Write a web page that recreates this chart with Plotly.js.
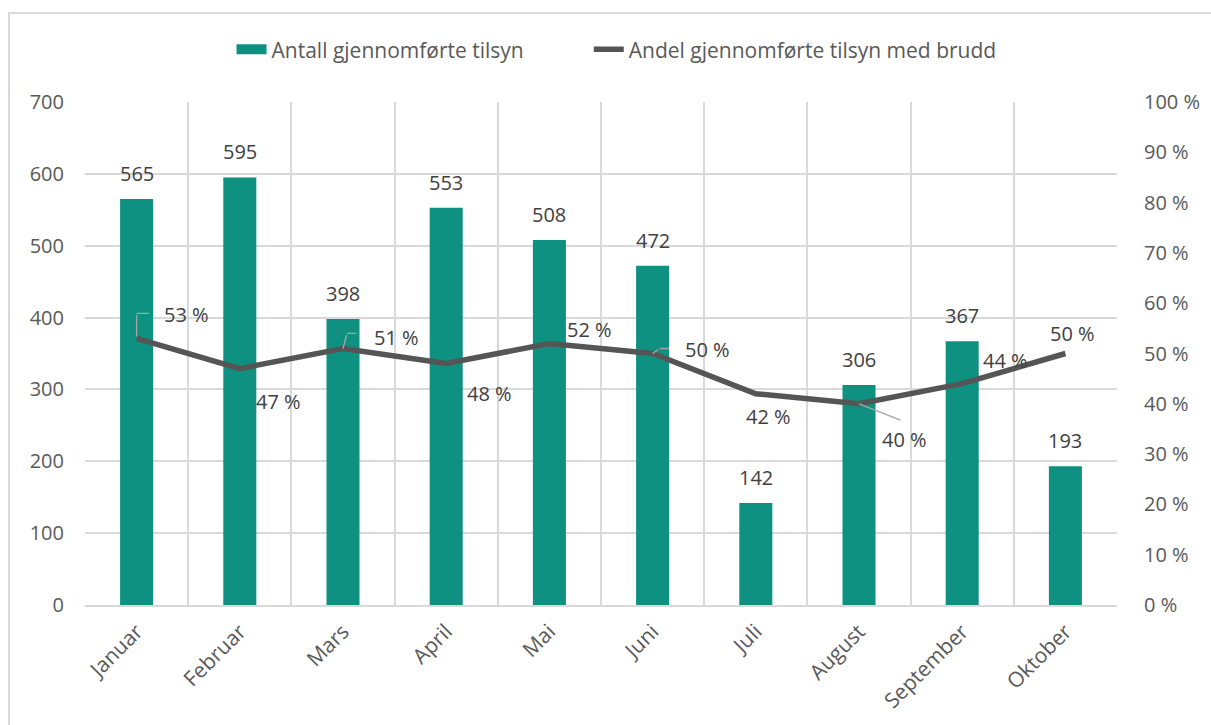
<!DOCTYPE html>
<html>
<head>
<meta charset="utf-8">
<script src="https://cdn.plot.ly/plotly-3.0.1.min.js"></script>
<style>
html,body{margin:0;padding:0;background:#fff;}
#wrap{position:relative;width:1211px;height:725px;overflow:hidden;}
#chart{width:1211px;height:725px;}
#frame{position:absolute;left:8px;top:12px;width:1300px;height:800px;border-left:2px solid #D9D9D9;border-top:2px solid #D9D9D9;pointer-events:none;}
</style>
</head>
<body>
<div id="wrap"><div id="chart"></div><div id="frame"></div></div>
<script>
const months = ["Januar","Februar","Mars","April","Mai","Juni","Juli","August","September","Oktober"];
const antall = [565, 595, 398, 553, 508, 472, 142, 306, 367, 193];
const andel = [53, 47, 51, 48, 52, 50, 42, 40, 44, 50];
const pctLabelOffsetX = [50, 39, 53, 43, 40, 55, 13, 45, 43, 7];
const pctLabelOffsetY = [24, -33, 11, -30, 14, 4, -23, -36, 23, 20];
const seriesNames = ["Antall gjennomførte tilsyn", "Andel gjennomførte tilsyn med brudd"];

const txtColor = "#595959";
const fontFam = "'Open Sans', sans-serif";
const fs = 20;
const barColor = "#0F9182";
const lineColor = "#555555";

const bars = {
  type: "bar", name: seriesNames[0],
  x: months, y: antall, marker: {color: barColor}, width: 0.32,
  hoverinfo: "skip", showlegend: false
};
const line = {
  type: "scatter", mode: "lines", name: seriesNames[1],
  x: months, y: andel, yaxis: "y2",
  line: {color: lineColor, width: 5.5}, hoverinfo: "skip", showlegend: false
};
// legend entries (wide swatches like the original)
const legBar = {
  type: "scatter", mode: "lines", name: seriesNames[0] + "\u00a0".repeat(11),
  x: [null], y: [null], line: {color: barColor, width: 14}, showlegend: true, hoverinfo: "skip"
};
const legLine = {
  type: "scatter", mode: "lines", name: seriesNames[1],
  x: [null], y: [null], yaxis: "y2", line: {color: lineColor, width: 5.5}, showlegend: true, hoverinfo: "skip"
};

const annotations = [];
months.forEach((m, i) => {
  annotations.push({
    x: m, y: antall[i], xref: "x", yref: "y", text: String(antall[i]),
    showarrow: false, yanchor: "bottom", yshift: 10,
    font: {family: fontFam, size: fs, color: "#404040"}
  });
  annotations.push({
    x: m, y: andel[i], xref: "x", yref: "y2", text: andel[i] + " %",
    showarrow: false, xshift: pctLabelOffsetX[i], yshift: pctLabelOffsetY[i],
    font: {family: fontFam, size: fs, color: "#404040"}
  });
});
// leader lines (label connectors)
function leader(i, xs, ys, ax, ay) {
  annotations.push({
    x: months[i], y: andel[i], xref: "x", yref: "y2", text: "",
    showarrow: true, arrowhead: 0, arrowwidth: 1.3, arrowcolor: "#A6A6A6",
    xshift: xs, yshift: ys, ax: ax, ay: ay, standoff: 0, startstandoff: 0
  });
}
leader(0, 0, 2, 0, -23);
leader(0, 0, 25, 14, 0);
leader(2, 0, 0, 4, -15);
leader(2, 4, 15, 11, 0);
leader(5, 0, 0, 7, -5);
leader(5, 7, 5, 11, 0);
leader(7, 0, 0, 43, 17);

const layout = {
  width: 1211, height: 725,
  margin: {l: 85, r: 94, t: 102, b: 120},
  paper_bgcolor: "#fff", plot_bgcolor: "#fff",
  font: {family: fontFam, size: fs, color: txtColor},
  showlegend: true,
  legend: {orientation: "h", x: 0.142, xanchor: "left", y: 1.104, yanchor: "middle",
           font: {family: fontFam, size: 21, color: txtColor}, traceorder: "normal"},
  xaxis: {
    type: "category", range: [-0.5, 9.5], tickson: "boundaries",
    showgrid: true, gridcolor: "#D9D9D9", gridwidth: 2,
    showline: true, linecolor: "#D9D9D9", linewidth: 2,
    ticks: "", tickangle: -45, fixedrange: true, ticklabelstandoff: 4,
    tickfont: {family: fontFam, size: 21, color: txtColor}
  },
  yaxis: {
    range: [0, 700], dtick: 100, showgrid: true, gridcolor: "#D9D9D9", gridwidth: 2,
    zeroline: false, showline: false, ticks: "", ticklabelstandoff: 20,
    tickfont: {family: fontFam, size: fs, color: txtColor}
  },
  yaxis2: {
    overlaying: "y", side: "right", range: [0, 100], dtick: 10, ticksuffix: " %",
    showgrid: false, zeroline: false, showline: false, ticks: "", ticklabelstandoff: 26,
    tickfont: {family: fontFam, size: fs, color: txtColor}
  },
  annotations: annotations,
  hovermode: false
};

Plotly.newPlot("chart", [bars, line, legBar, legLine], layout, {displayModeBar: false, staticPlot: true});
</script>
</body>
</html>
